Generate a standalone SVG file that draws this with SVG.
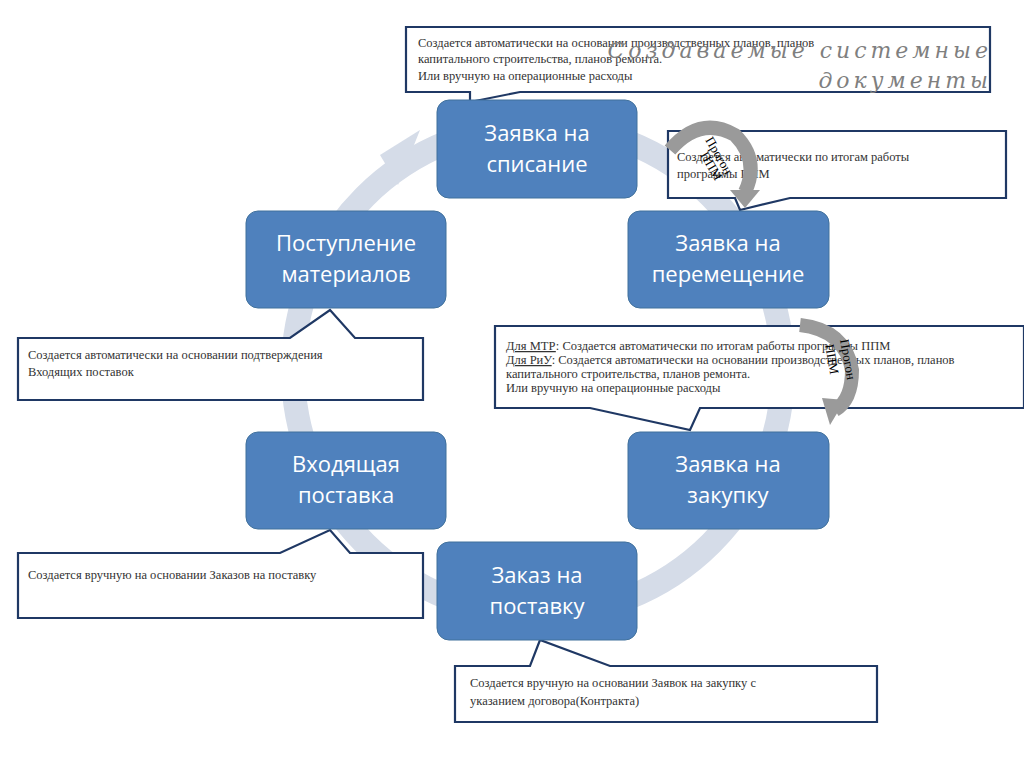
<svg xmlns="http://www.w3.org/2000/svg" width="1024" height="767" viewBox="0 0 1024 767">
<style>
.node rect{fill:#4f81bd;stroke:#41719c;stroke-width:1}
.node text{fill:#fff;font-family:"Open Sans","DejaVu Sans",sans-serif;font-size:22px;text-anchor:middle}
.call path{fill:#fff;stroke:#1f3864;stroke-width:2.2}
.call text{fill:#333;font-family:"Liberation Serif",serif;font-size:12.5px}
.ring{fill:none;stroke:#d5dce8;stroke-width:24}
.ppm{fill:none;stroke:#9a9a9a;stroke-width:14}
.ppmt{font-family:"Liberation Serif",serif;font-size:13px;fill:#000}
.ttl{font-family:"DejaVu Serif",serif;font-style:italic;font-size:22px;letter-spacing:4px;fill:#7f7f7f;text-anchor:end}
</style>
<rect width="1024" height="767" fill="#fff"/>
<g id="connectors">
<circle class="ring" cx="538" cy="370" r="245"/>
<polygon points="380,155 420,130 398,185" fill="#d5dce8"/>
</g>
<g id="c1" class="call"><path d="M406,27H990V92H520L470,102L470,92H406Z"/>
<text x="418" y="47">Создается  автоматически  на основании производственных планов, планов</text>
<text x="418" y="63">капитального строительства, планов ремонта.</text>
<text x="418" y="80">Или вручную на операционные расходы</text></g>
<g id="title"><text class="ttl" x="992" y="58">Создаваемые системные</text>
<text class="ttl" x="992" y="88">документы</text></g>
<g id="c2" class="call"><path d="M668,131H1006V198H790L740,210L735,198H668Z"/>
<text x="677" y="161">Создается  автоматически  по итогам работы</text>
<text x="677" y="178">программы ППМ</text></g>
<g id="c3" class="call"><path d="M495,326H1024V408H700L690,430L590,408H495Z"/>
<text x="506" y="350" font-size="11"><tspan text-decoration="underline">Для МТР</tspan>: Создается  автоматически  по итогам работы программы ППМ</text>
<text x="506" y="364" font-size="11"><tspan text-decoration="underline">Для РиУ</tspan>: Создается  автоматически  на основании производственных планов, планов</text>
<text x="506" y="378" font-size="11">капитального строительства, планов ремонта.</text>
<text x="506" y="392" font-size="11">Или вручную на операционные расходы</text></g>
<g id="c4" class="call"><path d="M18,338H290L330,310L355,338H423V400H18Z"/>
<text x="28" y="359">Создается автоматически на основании подтверждения</text>
<text x="28" y="376">Входящих поставок</text></g>
<g id="c5" class="call"><path d="M18,553H280L330,530L350,553H423V618H18Z"/>
<text x="28" y="579">Создается вручную на основании Заказов на поставку</text></g>
<g id="c6" class="call"><path d="M455,666H530L540,640L610,666H877V722H455Z"/>
<text x="470" y="687">Создается вручную на основании Заявок на закупку с</text>
<text x="470" y="705">указанием договора(Контракта)</text></g>
<g id="n1" class="node"><rect x="437" y="100" width="200" height="98" rx="12"/><text x="537" y="141">Заявка на</text><text x="537" y="172">списание</text></g>
<g id="n2" class="node"><rect x="628" y="211" width="201" height="97" rx="12"/><text x="728" y="251">Заявка на</text><text x="728" y="282">перемещение</text></g>
<g id="n3" class="node"><rect x="246" y="211" width="200" height="97" rx="12"/><text x="346" y="251">Поступление</text><text x="346" y="282">материалов</text></g>
<g id="n4" class="node"><rect x="246" y="432" width="200" height="97" rx="12"/><text x="346" y="472">Входящая</text><text x="346" y="503">поставка</text></g>
<g id="n5" class="node"><rect x="628" y="432" width="201" height="97" rx="12"/><text x="728" y="472">Заявка на</text><text x="728" y="503">закупку</text></g>
<g id="n6" class="node"><rect x="437" y="542" width="200" height="98" rx="12"/><text x="537" y="583">Заказ на</text><text x="537" y="614">поставку</text></g>
<g id="ppm1"><path class="ppm" d="M670,150Q700,115 735,135Q760,160 745,192"/>
<polygon points="730,190 760,190 745,208" fill="#9a9a9a"/>
<text class="ppmt" transform="translate(705,140) rotate(60)">Прогон</text>
<text class="ppmt" transform="translate(700,155) rotate(60)">ППМ</text></g>
<g id="ppm2"><path class="ppm" d="M800,325Q845,330 852,370Q852,400 835,410"/>
<polygon points="845,400 830,425 822,398" fill="#9a9a9a"/>
<text class="ppmt" transform="translate(840,340) rotate(80)">Прогон</text>
<text class="ppmt" transform="translate(825,345) rotate(80)">ППМ</text></g>
</svg>
